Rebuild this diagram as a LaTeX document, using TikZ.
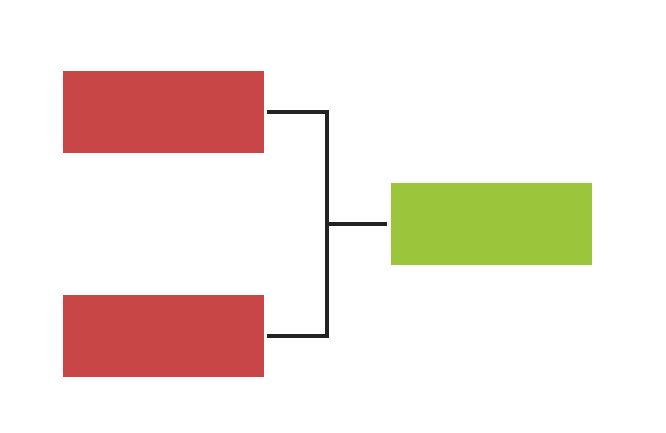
\documentclass[tikz,border=0pt]{standalone}
\usepackage{tikz}
\usetikzlibrary{
    arrows.meta,
    calc,
    positioning
}
\definecolor{tikzred}{RGB}{201,70,70}
\definecolor{tikzgreen}{RGB}{155,198,60}
\definecolor{tikzgray}{RGB}{34,34,34}
\tikzset{
    % Box styles
    entry box/.style={
        fill=tikzred,
        rectangle,
        minimum height=2.46cm,
        minimum width=6.03cm,
        inner sep=0pt
    },
    winner box/.style={
        fill=tikzgreen,
        rectangle,
        minimum height=2.46cm,
        minimum width=6.03cm,
        inner sep=0pt
    },
    % Line styles
    bracket line/.style={
        line width=3.4pt,
        tikzgray
    }
}
\begin{document}
\begin{tikzpicture}[x=0.03cm, y=-0.03cm]
        \useasboundingbox (0,0) rectangle (666,433);

        % Boxes
        \node[entry box] at (163.5,112) (top) {};
        \node[entry box] at (163.5,336) (bottom) {};
        \node[winner box] at (491.5,224) (winner) {};

        % Connections
        \coordinate (join) at (327,224);
        \draw[bracket line] ([xshift=0.09cm]top.east) -| (join) |- ([xshift=0.09cm]bottom.east);
        \draw[bracket line] (join) -- ([xshift=-0.12cm]winner.west);
    \end{tikzpicture}
\end{document}
